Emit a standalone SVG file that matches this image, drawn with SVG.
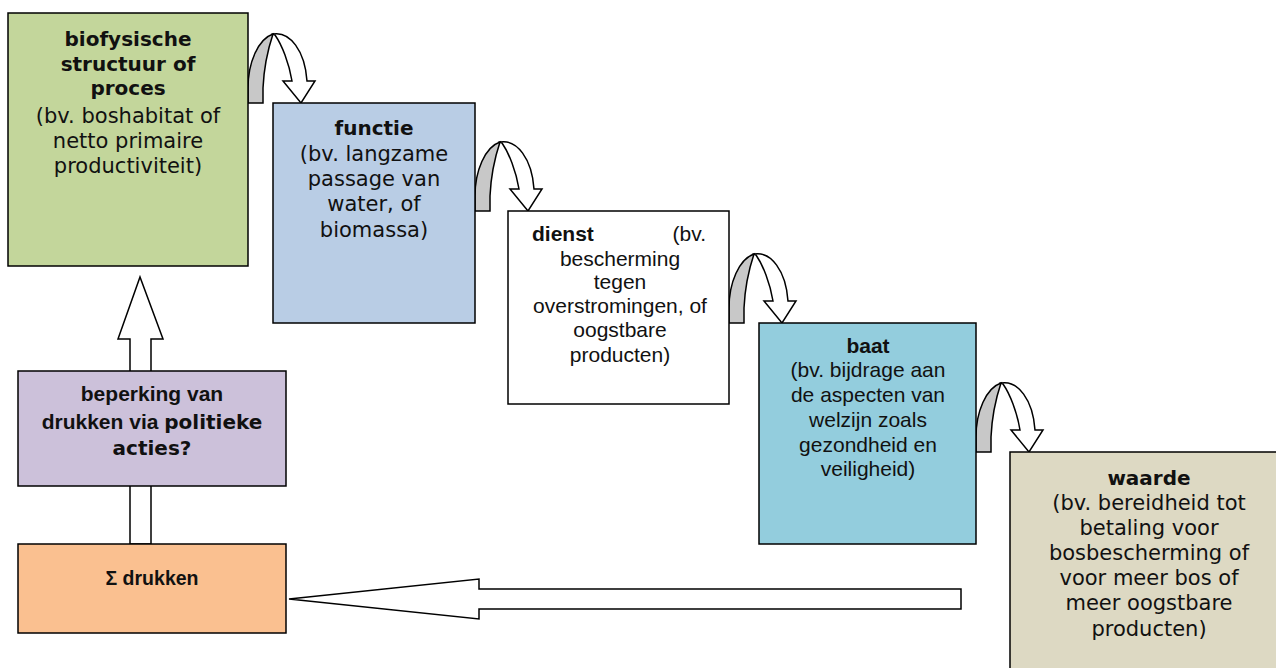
<svg xmlns="http://www.w3.org/2000/svg" xmlns:xlink="http://www.w3.org/1999/xlink" width="1276" height="668" viewBox="0 0 1276 668">
<style>
.box{stroke:#000;stroke-width:1.5}
.arr{fill:#fff;stroke:#000;stroke-width:1.5;stroke-linejoin:miter}
.back{fill:#c8c8c8;stroke:#000;stroke-width:1.5}
.v{font-family:"DejaVu Sans",Verdana,sans-serif;font-size:21px;fill:#111;text-anchor:middle}
.vb{font-family:"DejaVu Sans",Verdana,sans-serif;font-size:20px;font-weight:bold;fill:#111}
.a{font-family:"Liberation Sans",Arial,sans-serif;font-size:21px;fill:#111;text-anchor:middle}
.ab{font-family:"Liberation Sans",Arial,sans-serif;font-size:21px;font-weight:bold;fill:#111}
</style>
<defs>
<g id="curved">
<path class="back" d="M0,0 L0,-15 C0,-40 10,-64 25,-69 C22,-60 16,-38 15,-15 L15,0 Z"/>
<path class="arr" d="M25,-69 C42,-72 57,-52 59,-22 L67,-22 L53,0 L35,-22 L44,-22 C41,-40 34,-58 27,-68 Z"/>
</g>
</defs>
<rect width="1276" height="668" fill="#fff"/>
<g id="connectors">
<path class="arr" d="M130,544 L130,339 L118,339 L140,277 L163,339 L151,339 L151,544 Z"/>
<path class="arr" d="M289,599 L479,579 L479,589 L961,589 L961,609 L479,609 L479,619 Z"/>
<use xlink:href="#curved" transform="translate(248,103)"/>
<use xlink:href="#curved" transform="translate(475,211)"/>
<use xlink:href="#curved" transform="translate(729,323)"/>
<use xlink:href="#curved" transform="translate(976,452)"/>
</g>
<g id="biofysische">
<rect class="box" x="8" y="13" width="240" height="253" fill="#c3d69b"/>
<text class="vb" x="128" y="46" text-anchor="middle">biofysische</text>
<text class="vb" x="128" y="71" text-anchor="middle">structuur of</text>
<text class="vb" x="128" y="95" text-anchor="middle">proces</text>
<text class="v" x="128" y="123">(bv. boshabitat of</text>
<text class="v" x="128" y="148">netto primaire</text>
<text class="v" x="128" y="173">productiviteit)</text>
</g>
<g id="functie">
<rect class="box" x="273" y="103" width="202" height="220" fill="#b9cde5"/>
<text class="vb" x="374" y="135" text-anchor="middle">functie</text>
<text class="v" x="374" y="161">(bv. langzame</text>
<text class="v" x="374" y="186">passage van</text>
<text class="v" x="374" y="211">water, of</text>
<text class="v" x="374" y="237">biomassa)</text>
</g>
<g id="dienst">
<rect class="box" x="508" y="211" width="221" height="193" fill="#fff"/>
<text class="ab" x="532" y="241">dienst</text>
<text class="a" x="706" y="241" style="text-anchor:end">(bv.</text>
<text class="a" x="620" y="266">bescherming</text>
<text class="a" x="620" y="289">tegen</text>
<text class="a" x="620" y="313">overstromingen, of</text>
<text class="a" x="620" y="337">oogstbare</text>
<text class="a" x="620" y="362">producten)</text>
</g>
<g id="baat">
<rect class="box" x="759" y="323" width="217" height="221" fill="#93cddd"/>
<text class="ab" x="868" y="353" text-anchor="middle">baat</text>
<text class="a" x="868" y="377">(bv. bijdrage aan</text>
<text class="a" x="868" y="402">de aspecten van</text>
<text class="a" x="868" y="427">welzijn zoals</text>
<text class="a" x="868" y="452">gezondheid en</text>
<text class="a" x="868" y="476">veiligheid)</text>
</g>
<g id="waarde">
<rect class="box" x="1010" y="452" width="290" height="230" fill="#ddd9c3"/>
<text class="vb" x="1149" y="485" text-anchor="middle">waarde</text>
<text class="v" x="1149" y="510">(bv. bereidheid tot</text>
<text class="v" x="1149" y="535">betaling voor</text>
<text class="v" x="1149" y="560">bosbescherming of</text>
<text class="v" x="1149" y="585">voor meer bos of</text>
<text class="v" x="1149" y="610">meer oogstbare</text>
<text class="v" x="1149" y="636">producten)</text>
</g>
<g id="beperking">
<rect class="box" x="18" y="371" width="268" height="115" fill="#ccc1da"/>
<text class="ab" x="152" y="401" text-anchor="middle">beperking van</text>
<text x="152" y="429" text-anchor="middle"><tspan class="ab">drukken via </tspan><tspan class="vb">politieke</tspan></text>
<text class="vb" x="152" y="455" text-anchor="middle">acties?</text>
</g>
<g id="drukken">
<rect class="box" x="18" y="544" width="268" height="89" fill="#fac090"/>
<text class="ab" x="152" y="585" text-anchor="middle" style="font-size:19.5px">Σ drukken</text>
</g>
</svg>
